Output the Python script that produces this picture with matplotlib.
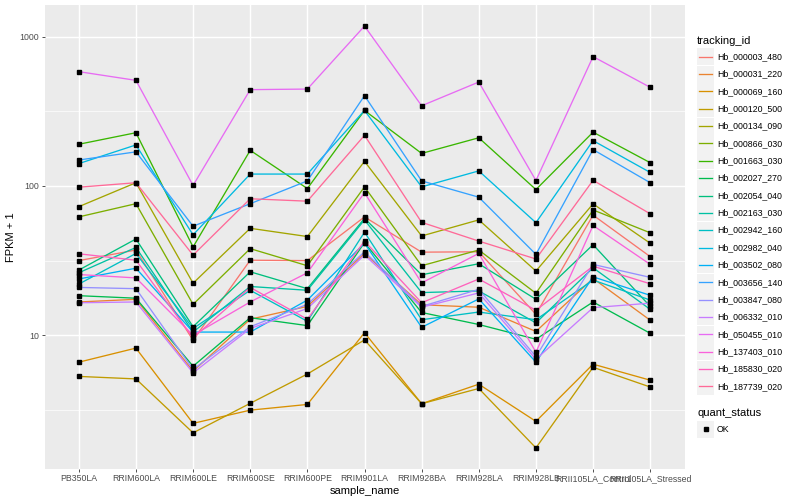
import numpy as np
import matplotlib
matplotlib.use("Agg")
import matplotlib.pyplot as plt
from matplotlib.patches import Rectangle
from matplotlib.lines import Line2D

plt.rcParams['font.family'] = ['Liberation Sans', 'DejaVu Sans']

samples = ["PB350LA", "RRIM600LA", "RRIM600LE", "RRIM600SE", "RRIM600PE", "RRIM901LA",
           "RRIM928BA", "RRIM928LA", "RRIM928LB", "RRII105LA_Control", "RRII105LA_Stressed"]

genes = ["Hb_000003_480", "Hb_000031_220", "Hb_000069_160", "Hb_000120_500", "Hb_000134_090",
         "Hb_000866_030", "Hb_001663_030", "Hb_002027_270", "Hb_002054_040", "Hb_002163_030",
         "Hb_002942_160", "Hb_002982_040", "Hb_003502_080", "Hb_003656_140", "Hb_003847_080",
         "Hb_006332_010", "Hb_050455_010", "Hb_137403_010", "Hb_185830_020", "Hb_187739_020"]

# FPKM + 1 values per gene, in sample order
hb_000003_480 = [31.6, 37.2, 9.25, 31.8, 31.6, 62.0, 36.0, 36.2, 13.8, 63.7, 33.6]
hb_000031_220 = [16.7, 17.4, 5.75, 12.8, 15.6, 35.3, 16.0, 15.4, 10.6, 24.0, 12.6]
hb_000069_160 = [6.6, 8.2, 2.57, 3.15, 3.44, 10.4, 3.48, 4.7, 2.65, 6.4, 5.0]
hb_000120_500 = [5.3, 5.1, 2.22, 3.5, 5.5, 9.3, 3.48, 4.4, 1.76, 6.1, 4.5]
hb_000134_090 = [72.6, 105.0, 22.3, 52.0, 45.8, 146.0, 46.2, 59.2, 26.9, 75.8, 41.3]
hb_000866_030 = [62.0, 76.0, 16.1, 38.0, 29.2, 98.5, 29.2, 37.2, 19.1, 69.0, 48.5]
hb_001663_030 = [190.0, 227.0, 39.0, 173.0, 96.0, 320.0, 165.0, 210.0, 94.5, 229.0, 143.0]
hb_002027_270 = [18.4, 17.7, 6.2, 13.1, 11.6, 41.7, 14.2, 11.8, 9.4, 16.7, 10.3]
hb_002054_040 = [27.3, 44.1, 11.4, 26.6, 20.5, 60.6, 25.4, 30.1, 17.4, 40.4, 15.6]
hb_002163_030 = [26.2, 38.7, 10.5, 21.2, 20.0, 59.2, 19.3, 19.8, 12.1, 28.3, 14.9]
hb_002942_160 = [22.0, 35.3, 11.1, 20.0, 12.4, 49.0, 12.7, 14.3, 12.7, 23.4, 17.2]
hb_002982_040 = [141.0, 188.0, 47.0, 120.0, 120.0, 320.0, 98.5, 126.0, 56.7, 201.0, 123.0]
hb_003502_080 = [23.8, 28.1, 10.5, 10.5, 17.2, 41.3, 11.3, 17.5, 6.6, 24.6, 18.5]
hb_003656_140 = [149.0, 169.0, 53.7, 76.0, 108.0, 402.0, 108.0, 84.0, 34.8, 175.0, 105.0]
hb_003847_080 = [20.9, 20.5, 5.9, 11.4, 16.1, 36.2, 15.6, 20.3, 7.2, 29.8, 24.4]
hb_006332_010 = [16.5, 16.7, 5.6, 11.1, 15.1, 34.4, 15.4, 19.2, 6.9, 15.3, 16.4]
hb_050455_010 = [582.0, 509.0, 100.7, 441.0, 445.0, 1175.0, 344.0, 496.0, 108.6, 734.0, 457.0]
hb_137403_010 = [25.5, 24.2, 10.0, 16.7, 26.2, 90.0, 22.4, 35.3, 7.7, 54.3, 29.8]
hb_185830_020 = [35.1, 31.8, 9.6, 20.9, 12.8, 42.7, 16.5, 23.8, 14.7, 29.0, 22.1]
hb_187739_020 = [98.0, 105.0, 34.4, 82.0, 79.0, 218.0, 57.0, 42.7, 32.4, 109.0, 65.0]

series = [hb_000003_480, hb_000031_220, hb_000069_160, hb_000120_500, hb_000134_090,
          hb_000866_030, hb_001663_030, hb_002027_270, hb_002054_040, hb_002163_030,
          hb_002942_160, hb_002982_040, hb_003502_080, hb_003656_140, hb_003847_080,
          hb_006332_010, hb_050455_010, hb_137403_010, hb_185830_020, hb_187739_020]

y_ticks = [10, 100, 1000]
y_tick_labels = ["10", "100", "1000"]


def hcl_hex(h, c=100.0, l=65.0):
    Xn, Yn, Zn = 95.047, 100.0, 108.883
    un = 4 * Xn / (Xn + 15 * Yn + 3 * Zn)
    vn = 9 * Yn / (Xn + 15 * Yn + 3 * Zn)
    hr = np.deg2rad(h)
    u = c * np.cos(hr)
    v = c * np.sin(hr)
    Y = Yn * ((l + 16) / 116) ** 3
    up = u / (13 * l) + un
    vp = v / (13 * l) + vn
    X = Y * 9 * up / (4 * vp)
    Z = Y * (12 - 3 * up - 20 * vp) / (4 * vp)
    X, Y, Z = X / 100, Y / 100, Z / 100
    r = 3.2404542 * X - 1.5371385 * Y - 0.4985314 * Z
    g = -0.9692660 * X + 1.8760108 * Y + 0.0415560 * Z
    b = 0.0556434 * X - 0.2040259 * Y + 1.0572252 * Z

    def gam(t):
        t = min(max(t, 0.0), 1.0)
        return 12.92 * t if t <= 0.0031308 else 1.055 * t ** (1 / 2.4) - 0.055
    return (gam(r), gam(g), gam(b))


n = len(genes)
hues = np.linspace(15, 375, n + 1)[:-1]
colors = [hcl_hex(hh) for hh in hues]

W, H = 800, 500
fig = plt.figure(figsize=(8, 5), dpi=100)
left_px, right_px, top_px, bot_px = 44.5, 684.5, 5, 469
ax = fig.add_axes([left_px / W, 1 - bot_px / H, (right_px - left_px) / W, (bot_px - top_px) / H])
ax.set_facecolor("#EBEBEB")

x = np.arange(len(samples))
for vals, col in zip(series, colors):
    ax.plot(x, vals, color=col, lw=0.95, zorder=3, solid_capstyle='butt')
for vals in series:
    ax.plot(x, vals, linestyle='none', marker='s', ms=2.2, color='black', zorder=4)

ax.set_yscale('log')
allv = np.concatenate([np.array(s) for s in series])
lo, hi = np.log10(allv.min()), np.log10(allv.max())
pad = 0.05 * (hi - lo)
ax.set_ylim(10 ** (lo - pad), 10 ** (hi + pad))
ax.set_xlim(-0.6, len(samples) - 1 + 0.6)

ax.set_yticks(y_ticks)
ax.set_yticklabels(y_tick_labels)
ax.set_yticks([10 ** 0.5, 10 ** 1.5, 10 ** 2.5], minor=True)
ax.yaxis.set_minor_formatter(matplotlib.ticker.NullFormatter())
ax.set_xticks(x)
ax.set_xticklabels(samples)

ax.grid(True, which='major', color='white', lw=1.05, zorder=0)
ax.grid(True, which='minor', axis='y', color='white', lw=0.5, zorder=0)
ax.set_axisbelow(True)
for sp in ax.spines.values():
    sp.set_visible(False)
ax.tick_params(axis='both', which='major', length=2.2, width=0.6, color='#333333',
               labelcolor='#4D4D4D', labelsize=6.3, pad=1.5)
ax.tick_params(axis='y', which='minor', length=0)

ax.set_xlabel("sample_name", fontsize=8, color='black', labelpad=2)
ax.set_ylabel("FPKM + 1", fontsize=8, color='black', labelpad=3)

# Legend (drawn manually in pixel space)
def fx(px):
    return px / W


def fy(py):
    return 1 - py / H

fig.text(fx(697), fy(40.5), "tracking_id", fontsize=8, va='center', ha='left')
for i, (g, col) in enumerate(zip(genes, colors)):
    yc = 56.7 + i * 17.35
    fig.patches.append(Rectangle((fx(697), fy(yc + 8.5)), 17 / W, 17 / H,
                                 transform=fig.transFigure, facecolor='#F2F2F2',
                                 edgecolor='none'))
    fig.lines.append(Line2D([fx(699), fx(712)], [fy(yc), fy(yc)], transform=fig.transFigure,
                            color=col, lw=0.95))
    fig.text(fx(717), fy(yc), g, fontsize=6.3, va='center', ha='left')

fig.text(fx(697), fy(412.5), "quant_status", fontsize=8, va='center', ha='left')
fig.patches.append(Rectangle((fx(697), fy(437.5)), 17 / W, 17 / H,
                             transform=fig.transFigure, facecolor='#F2F2F2', edgecolor='none'))
fig.lines.append(Line2D([fx(705.5)], [fy(429)], transform=fig.transFigure,
                        marker='s', ms=2.2, color='black', linestyle='none'))
fig.text(fx(717), fy(429), "OK", fontsize=6.3, va='center', ha='left')

fig.savefig("out.png", dpi=100, facecolor='white')
